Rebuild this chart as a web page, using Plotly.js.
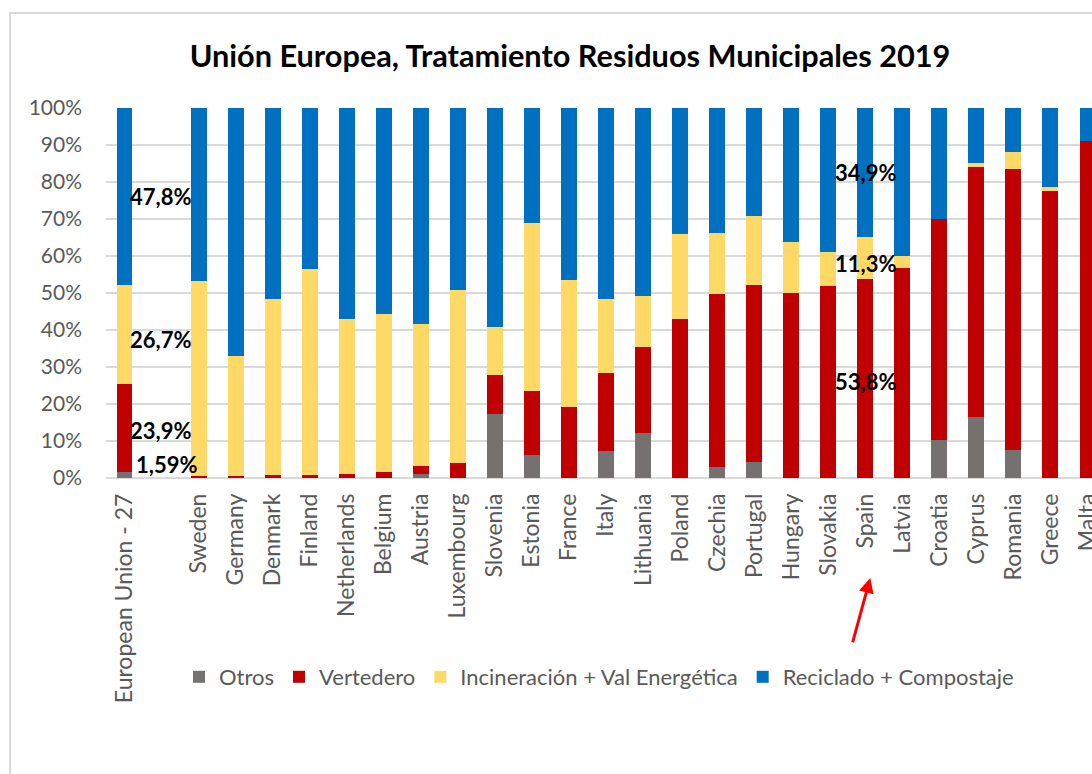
<!DOCTYPE html>
<html>
<head>
<meta charset="utf-8">
<script src="https://cdn.plot.ly/plotly-3.0.1.min.js"></script>
<style>
  html, body { margin: 0; padding: 0; width: 1092px; height: 774px; overflow: hidden; background: #fff; }
  #chart { position: absolute; left: 0; top: 0; width: 1140px; height: 774px; }
  #frame { position: absolute; left: 9px; top: 12px; width: 1200px; height: 900px; border: 2px solid #d9d9d9; pointer-events: none; box-sizing: border-box; }
</style>
</head>
<body>
<div id="chart"></div>
<div id="frame"></div>
<script>
// ---- Data (percent of municipal waste treated, 2019) ----
const countries = ["European Union - 27", " ", "Sweden", "Germany", "Denmark", "Finland", "Netherlands", "Belgium", "Austria", "Luxembourg", "Slovenia", "Estonia", "France", "Italy", "Lithuania", "Poland", "Czechia", "Portugal", "Hungary", "Slovakia", "Spain", "Latvia", "Croatia", "Cyprus", "Romania", "Greece", "Malta"];
const otros      = [1.59, null, 0, 0, 0, 0, 0, 0, 1.2, 0, 17.4, 6.1, 0, 7.2, 12.1, 0, 3.1, 4.3, 0, 0, 0, 0, 10.3, 16.6, 7.5, 0, 0];
const vertedero  = [23.9, null, 0.5, 0.5, 0.9, 0.9, 1.2, 1.5, 2.1, 4.0, 10.4, 17.5, 19.2, 21.1, 23.4, 42.9, 46.6, 47.9, 50.1, 51.8, 53.8, 56.7, 59.6, 67.5, 76.0, 77.7, 91.1];
const incineracion = [26.7, null, 52.7, 32.5, 47.4, 55.5, 41.7, 42.8, 38.2, 46.7, 13.0, 45.2, 34.4, 20.0, 13.8, 23.0, 16.6, 18.7, 13.7, 9.2, 11.3, 3.3, 0, 1.1, 4.7, 1.0, 0];
const reciclado  = [47.8, null, 46.8, 67.0, 51.7, 43.6, 57.1, 55.7, 58.5, 49.3, 59.2, 31.2, 46.4, 51.7, 50.7, 34.1, 33.7, 29.1, 36.2, 39.0, 34.9, 40.0, 30.1, 14.8, 11.8, 21.3, 8.9];
const seriesNames = ["Otros", "Vertedero", "Incineración + Val Energética", "Reciclado + Compostaje"];
const yTickVals = [0, 10, 20, 30, 40, 50, 60, 70, 80, 90, 100];
const labelledCountries = ["European Union - 27", "Spain"];

const colors = ["#767171", "#C00000", "#FFD966", "#0070C0"];
const seriesValues = [otros, vertedero, incineracion, reciclado];
const FONT = "Lato, 'Open Sans', sans-serif";

const traces = seriesValues.map((vals, i) => ({
  type: "bar",
  name: seriesNames[i],
  x: countries,
  y: vals,
  marker: { color: colors[i], line: { width: 0 } },
  hoverinfo: "skip"
}));

// label offsets (style only) per country / series
const labelXShift = { "European Union - 27": [42, 36, 36, 36], "Spain": [0, 0, 0, 0] };
const labelYShift = { "European Union - 27": [11, -3, -5, 0], "Spain": [0, -3, -5, 0] };

const annotations = [];
labelledCountries.forEach(c => {
  const idx = countries.indexOf(c);
  let base = 0;
  seriesValues.forEach((vals, si) => {
    const v = vals[idx];
    if (v > 0) {
      const txt = (si === 0 ? v.toFixed(2) : v.toFixed(1)).replace(".", ",") + "%";
      annotations.push({
        x: c, y: base + v / 2, xref: "x", yref: "y",
        text: txt, showarrow: false,
        font: { family: FONT, size: 22, color: "#000", weight: 700 },
        xshift: labelXShift[c][si],
        yshift: labelYShift[c][si]
      });
    }
    base += (v || 0);
  });
});
// red arrow pointing at Spain
annotations.push({
  x: "Spain", xref: "x", y: -0.27, yref: "paper",
  xshift: 5,
  text: "", showarrow: true, arrowhead: 2, arrowsize: 1, arrowwidth: 3,
  arrowcolor: "#FF0000", ax: -18, ay: 66, axref: "pixel", ayref: "pixel"
});

const layout = {
  width: 1140, height: 774,
  paper_bgcolor: "#ffffff", plot_bgcolor: "#ffffff",
  margin: { l: 106, r: 34, t: 108, b: 296 },
  barmode: "stack",
  bargap: 0.57,
  title: {
    text: "Unión Europea, Tratamiento Residuos Municipales 2019",
    font: { family: FONT, size: 30.7, color: "#000", weight: 700 },
    x: 0.5, xanchor: "center", xref: "container",
    y: 1 - 56 / 774, yanchor: "middle", yref: "container"
  },
  xaxis: {
    type: "category",
    categoryorder: "array", categoryarray: countries,
    tickangle: -90,
    tickfont: { family: FONT, size: 23, color: "#595959" },
    ticks: "", showgrid: false, zeroline: false, showline: false,
    ticklabelstandoff: 10,
    automargin: false,
    fixedrange: true
  },
  yaxis: {
    range: [0, 100],
    tickvals: yTickVals,
    ticktext: yTickVals.map(v => v + "%"),
    tickfont: { family: FONT, size: 21, color: "#595959" },
    showgrid: true, gridcolor: "#d9d9d9", gridwidth: 1.5,
    zeroline: true, zerolinecolor: "#d9d9d9", zerolinewidth: 1.5,
    showline: false, ticks: "",
    ticklabelstandoff: 23,
    automargin: false,
    fixedrange: true
  },
  showlegend: true,
  legend: {
    orientation: "h",
    x: (599 - 106) / 1000, xanchor: "center", xref: "paper",
    y: 1 - 677 / 774, yanchor: "middle", yref: "container",
    font: { family: FONT, size: 22, color: "#595959" },
    traceorder: "normal",
    itemwidth: 30
  },
  annotations: annotations
};

Plotly.newPlot("chart", traces, layout, { displayModeBar: false, staticPlot: true });
</script>
</body>
</html>
